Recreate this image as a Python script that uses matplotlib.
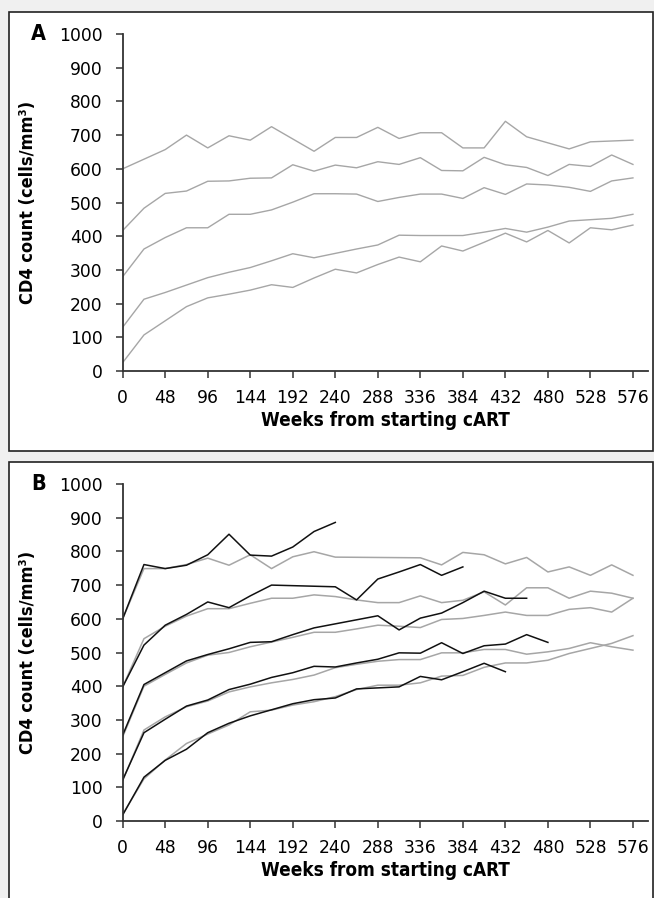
import matplotlib
matplotlib.use("Agg")
import matplotlib.pyplot as plt
from matplotlib.patches import Rectangle

# ---- data (weeks, CD4 cells/mm3) ----
weeks_full = [0, 24, 48, 72, 96, 120, 144, 168, 192, 216, 240, 264, 288,
              312, 336, 360, 384, 408, 432, 456, 480, 504, 528, 552, 576]

# panel A, grey lines
a1_weeks = [0, 48, 72, 96, 120, 144, 168, 216, 240, 264, 288, 312, 336,
            360, 384, 408, 432, 456, 504, 528, 576]
a1_vals = [600, 657, 700, 662, 698, 685, 725, 652, 693, 693, 723, 690, 707,
           707, 662, 662, 741, 695, 659, 680, 685]
a2_vals = [417, 483, 527, 534, 563, 564, 572, 573, 612, 593, 611, 603, 621,
           613, 633, 595, 594, 634, 612, 604, 580, 613, 607, 641, 613]
a3_vals = [280, 362, 396, 425, 425, 465, 465, 478, 501, 526, 526, 525, 503,
           515, 525, 525, 512, 544, 524, 555, 552, 545, 533, 564, 573]
a4_vals = [130, 213, 233, 255, 277, 293, 307, 327, 348, 336, 349, 362, 374,
           403, 402, 402, 402, 412, 423, 412, 427, 445, 449, 453, 465]
a5_vals = [25, 107, 149, 191, 217, 228, 240, 256, 248, 276, 302, 291, 316,
           338, 324, 371, 356, 382, 409, 383, 417, 380, 425, 419, 433]

# panel B, grey lines
b_g1_weeks = [0, 24, 48, 72, 96, 120, 144, 168, 192, 216, 240, 336, 360,
              384, 408, 432, 456, 480, 504, 528, 552, 576]
b_g1_vals = [600, 749, 749, 761, 780, 759, 790, 749, 784, 799, 783, 781, 760,
             797, 790, 763, 782, 739, 754, 729, 760, 729]
b_g2_vals = [398, 541, 578, 608, 630, 630, 646, 661, 661, 671, 666, 656, 648,
             648, 668, 648, 655, 680, 641, 692, 692, 661, 682, 676, 661]
b_g3_vals = [250, 400, 435, 469, 492, 500, 517, 531, 545, 560, 560, 570, 581,
             578, 574, 598, 601, 610, 620, 610, 610, 628, 633, 620, 661]
b_g4_vals = [120, 270, 309, 339, 356, 383, 398, 410, 420, 433, 455, 465, 474,
             479, 479, 499, 499, 509, 509, 495, 502, 512, 529, 517, 507]
b_g5_vals = [20, 125, 181, 230, 258, 285, 324, 329, 344, 354, 369, 390, 403,
             403, 410, 430, 432, 456, 469, 469, 477, 497, 512, 527, 550]

# panel B, black lines
b_k1_weeks = [0, 24, 48, 72, 96, 120, 144, 168, 192, 216, 240]
b_k1_vals = [600, 761, 749, 759, 790, 851, 789, 786, 813, 859, 886]
b_k2_weeks = [0, 24, 48, 72, 96, 120, 144, 168, 240, 264, 288, 312, 336, 360, 384]
b_k2_vals = [398, 522, 581, 613, 650, 633, 668, 700, 695, 656, 718, 739, 761, 729, 754]
b_k3_vals = [255, 405, 440, 475, 494, 511, 530, 532, 553, 573, 585, 597, 609,
             567, 602, 617, 648, 682, 661, 661]
b_k4_vals = [122, 262, 302, 341, 359, 390, 406, 426, 440, 459, 457, 469, 480,
             499, 498, 529, 497, 520, 525, 553, 530]
b_k5_vals = [18, 130, 180, 213, 262, 290, 312, 330, 348, 360, 365, 392, 395,
             398, 429, 419, 443, 468, 443]

x_ticks = list(range(0, 577, 48))
y_ticks = list(range(0, 1001, 100))

GREY = "#a6a6a6"
BLACK = "#111111"
AXIS = "#333333"

W, H = 654, 898
fig = plt.figure(figsize=(W / 100, H / 100), dpi=100)
fig.patch.set_facecolor("#f0f0f0")

BOLD = dict(family="DejaVu Sans", fontweight="bold", fontstretch="condensed")


def px_rect(x0, y0, x1, y1):
    # pixel box (top-left origin) -> figure fraction [left, bottom, w, h]
    return [x0 / W, 1 - y1 / H, (x1 - x0) / W, (y1 - y0) / H]


def panel(box, ax_box, letter):
    bx = px_rect(*box)
    fig.patches.append(Rectangle((bx[0], bx[1]), bx[2], bx[3],
                                 transform=fig.transFigure, facecolor="white",
                                 edgecolor="#222222", linewidth=1.2, zorder=-5))
    ax = fig.add_axes(px_rect(*ax_box))
    ax.set_facecolor("none")
    ax.set_xlim(0, 593)
    ax.set_ylim(0, 1000)
    ax.set_xticks(x_ticks)
    ax.set_yticks(y_ticks)
    for s in ("top", "right"):
        ax.spines[s].set_visible(False)
    for s in ("left", "bottom"):
        ax.spines[s].set_color(AXIS)
        ax.spines[s].set_linewidth(1.3)
    ax.tick_params(direction="out", length=5, width=1.1, color=AXIS,
                   labelsize=12.3, pad=8)
    ax.tick_params(axis="y", pad=9.5)
    ax.set_ylabel("CD4 count (cells/mm\u00b3)", fontsize=13, **BOLD)
    ax.yaxis.set_label_coords(-0.163, 0.5)
    ax.set_xlabel("Weeks from starting cART", fontsize=13.6, labelpad=3, **BOLD)
    ax.text(-0.161, 1.0, letter, transform=ax.transAxes, fontsize=15.5,
            ha="center", va="center", **BOLD)
    return ax


ax_a = panel((9, 12, 653, 451), (122.7, 34, 648, 371), "A")
for wk, vals in [(a1_weeks, a1_vals), (weeks_full, a2_vals),
                 (weeks_full, a3_vals), (weeks_full, a4_vals),
                 (weeks_full, a5_vals)]:
    ax_a.plot(wk, vals, color=GREY, lw=1.0)

ax_b = panel((9, 462, 653, 905), (122.7, 484, 648, 821), "B")
for wk, vals in [(b_g1_weeks, b_g1_vals), (weeks_full, b_g2_vals),
                 (weeks_full, b_g3_vals), (weeks_full, b_g4_vals),
                 (weeks_full, b_g5_vals)]:
    ax_b.plot(wk, vals, color=GREY, lw=1.1)
for wk, vals in [(b_k1_weeks, b_k1_vals), (b_k2_weeks, b_k2_vals),
                 (weeks_full[:len(b_k3_vals)], b_k3_vals),
                 (weeks_full[:len(b_k4_vals)], b_k4_vals),
                 (weeks_full[:len(b_k5_vals)], b_k5_vals)]:
    ax_b.plot(wk, vals, color=BLACK, lw=1.1)

fig.savefig("out.png", dpi=100, facecolor=fig.get_facecolor())
